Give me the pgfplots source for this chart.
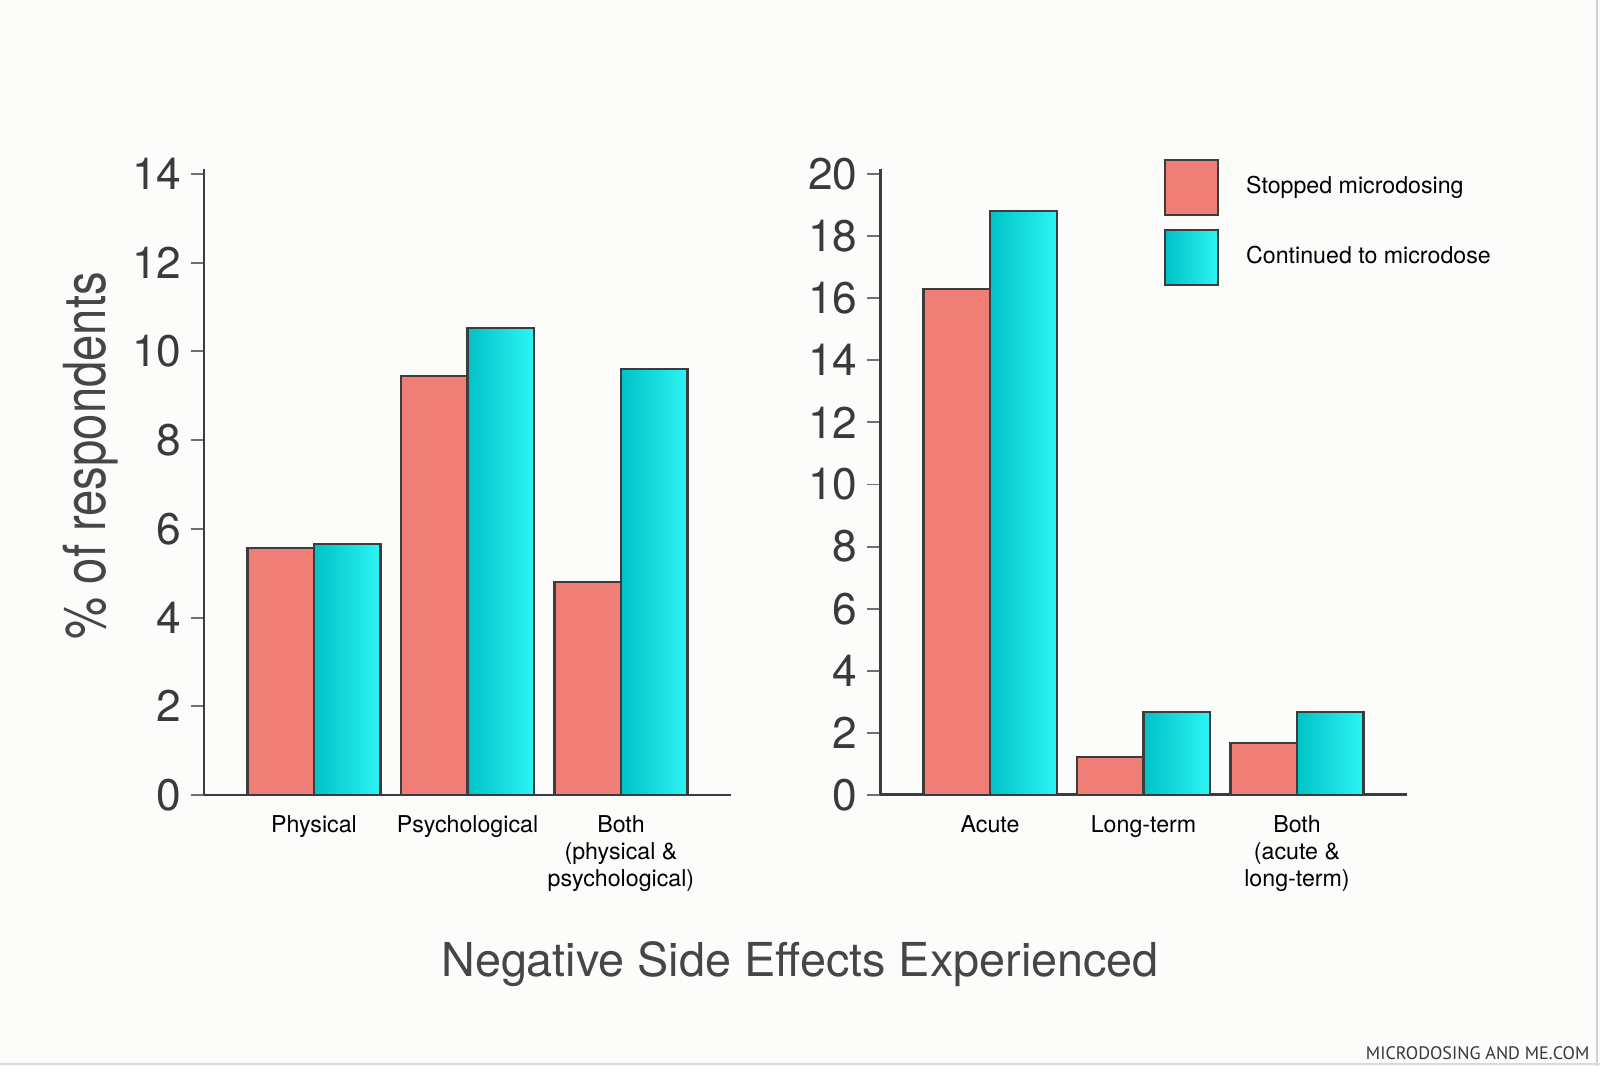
\documentclass[border=0pt]{standalone}
\usepackage{pgfplots}
\pgfplotsset{compat=1.18}
\usepackage{graphicx}
\usepackage{fontspec}
\setmainfont{TeX Gyre Heros}
\newfontfamily\wmfont{PT Sans}
\definecolor{bg}{HTML}{FCFCFA}
\definecolor{salmon}{HTML}{EF7E77}
\definecolor{tealL}{HTML}{00C2C7}
\definecolor{tealR}{HTML}{2DF4F4}
\definecolor{axisgray}{HTML}{3C3C3C}
\definecolor{tickgray}{HTML}{707070}
\definecolor{textgray}{HTML}{3A3A3A}
\definecolor{titlegray}{HTML}{464646}

\pgfplotsset{
  sideaxis/.style={
    scale only axis,
    width=5.27cm, height=6.26cm,
    anchor=south west,
    axis lines*=left,
    axis line style={axisgray, line width=0.85pt},
    xmin=-0.717, xmax=2.717,
    ymin=0,
    xtick={0,1,2},
    tick align=outside,
    major tick length=1.3mm,
    x tick style={draw=none},
    y tick style={tickgray, line width=0.55pt},
    /pgf/number format/assume math mode=true,
    yticklabel style={font=\fontsize{12.6}{14}\selectfont, text=textgray, inner sep=0pt, xshift=-0.9mm},
    xticklabel style={font=\fontsize{6.6}{7.7}\selectfont, text=black, align=center, inner sep=0pt, anchor=north, yshift=-0.7mm},
    ybar=0pt, bar width=0.665cm,
    clip=false,
    every axis plot/.append style={draw=axisgray, line width=0.6pt},
  },
  stopped/.style={fill=salmon, bar shift=-0.3325cm},
  continued/.style={left color=tealL, right color=tealR, bar shift=0.3325cm},
}

\begin{document}
\begin{tikzpicture}
\fill[bg] (0,0) rectangle (16,10.66);

\begin{axis}[sideaxis,
  at={(2.04cm,2.71cm)},
  ymax=14.113, ytick={0,2,...,14},
  xticklabels={Physical, Psychological, Both\\(physical \&\\psychological)},
  ylabel={\scalebox{0.815}[1]{\%~of respondents}},
  ylabel style={at={(axis description cs:-0.186,0.542)}, anchor=base, font=\fontsize{16.5}{18}\selectfont, text=titlegray, inner sep=0pt},
]
% Stopped microdosing
\addplot[stopped] coordinates {(0,5.57) (1,9.45) (2,4.80)};
% Continued to microdose (one bar per plot so that each bar gets its own gradient)
\addplot[continued] coordinates {(0,5.65)};
\addplot[continued] coordinates {(1,10.53)};
\addplot[continued] coordinates {(2,9.61)};
\end{axis}

\begin{axis}[sideaxis,
  at={(8.80cm,2.71cm)},
  ymax=20.161, ytick={0,2,...,20},
  xticklabels={Acute, Long-term, Both\\(acute \&\\long-term)},
  legend style={at={(axis description cs:0.539,1.016)}, anchor=north west, draw=none, fill=none, inner sep=0pt, outer sep=0pt, column sep=2.7mm, row sep=1.3mm, font=\fontsize{6.6}{7.7}\selectfont, nodes={inner sep=0pt, anchor=west}},
  legend cell align=left,
  legend image code/.code={\draw[#1] (0cm,-0.275cm) rectangle (0.53cm,0.275cm);},
]
\addplot[stopped] coordinates {(0,16.30) (1,1.22) (2,1.68)};
\addlegendentry{Stopped microdosing}
\addplot[continued] coordinates {(0,18.80)};
\addlegendentry{Continued to microdose}
\addplot[continued, forget plot] coordinates {(1,2.68)};
\addplot[continued, forget plot] coordinates {(2,2.68)};
\end{axis}

\node[font=\fontsize{13.3}{15}\selectfont, text=titlegray, anchor=base, inner sep=0pt] at (8.00,0.89) {Negative Side Effects Experienced};
\node[font=\wmfont\fontsize{5.15}{6}\selectfont, text=black!78, anchor=base east, inner sep=0pt] at (15.90,0.06) {MICRODOSING AND ME.COM};
\draw[black!18, line width=0.4pt] (15.97,0) -- (15.97,10.66);
\draw[black!15, line width=0.4pt] (0,0.02) -- (16,0.02);
\pgfresetboundingbox
\useasboundingbox (0,0) rectangle (16,10.66);
\end{tikzpicture}
\end{document}
